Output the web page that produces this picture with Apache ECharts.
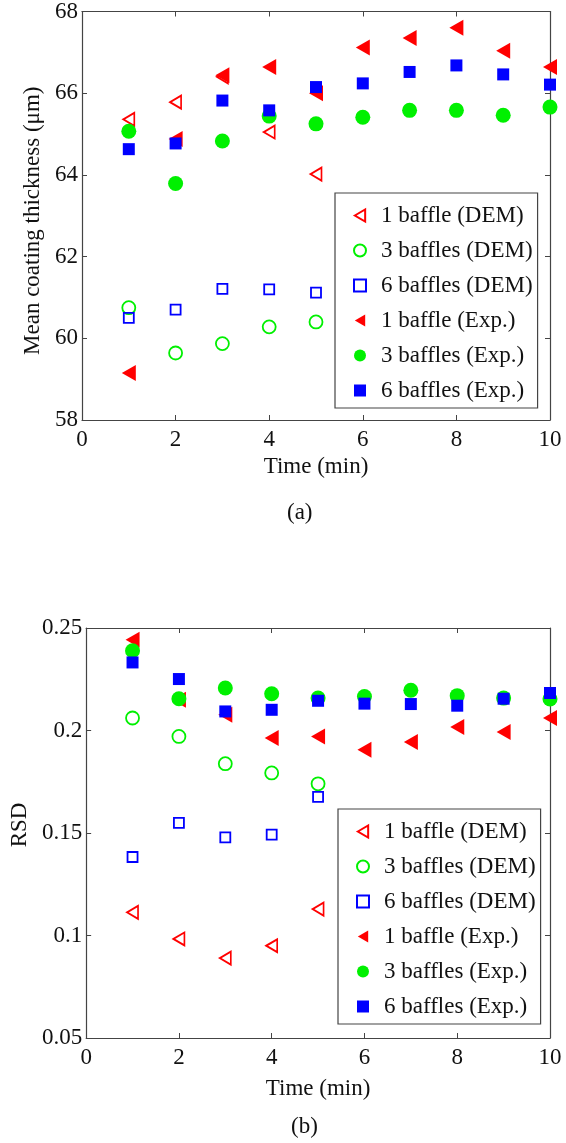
<!DOCTYPE html>
<html>
<head>
<meta charset="utf-8">
<script src="https://cdn.jsdelivr.net/npm/echarts@6/dist/echarts.min.js"></script>
<style>
  html, body { margin: 0; padding: 0; background: #fff; }
  #chart { width: 566px; height: 1143px; }
</style>
</head>
<body>
<div id="chart"></div>
<script>
// Sampling times (min)
const times = [1, 2, 3, 4, 5, 6, 7, 8, 9, 10];
const demTimes = [1, 2, 3, 4, 5];

// (a) Mean coating thickness (µm)
const thick1DEM = [65.36, 65.78, 66.40, 65.05, 64.02];
const thick3DEM = [60.75, 59.64, 59.87, 60.28, 60.40];
const thick6DEM = [60.50, 60.70, 61.21, 61.20, 61.12];
const thick1Exp = [59.15, 64.88, 66.44, 66.64, 66.00, 67.12, 67.35, 67.60, 67.04, 66.64];
const thick3Exp = [65.07, 63.79, 64.83, 65.44, 65.25, 65.41, 65.58, 65.58, 65.46, 65.66];
const thick6Exp = [64.63, 64.77, 65.82, 65.58, 66.15, 66.24, 66.52, 66.68, 66.46, 66.21];

// (b) Relative standard deviation
const rsd1DEM = [0.1113, 0.0983, 0.0890, 0.0950, 0.1129];
const rsd3DEM = [0.2061, 0.1971, 0.1838, 0.1793, 0.1740];
const rsd6DEM = [0.1383, 0.1549, 0.1479, 0.1492, 0.1676];
const rsd1Exp = [0.2443, 0.2150, 0.2077, 0.1963, 0.1971, 0.1906, 0.1944, 0.2017, 0.1993, 0.2061];
const rsd3Exp = [0.2389, 0.2155, 0.2207, 0.2179, 0.2158, 0.2166, 0.2196, 0.2170, 0.2158, 0.2154];
const rsd6Exp = [0.2332, 0.2251, 0.2093, 0.2101, 0.2145, 0.2131, 0.2129, 0.2121, 0.2155, 0.2183];

const seriesNames = [
  '1 baffle (DEM)', '3 baffles (DEM)', '6 baffles (DEM)',
  '1 baffle (Exp.)', '3 baffles (Exp.)', '6 baffles (Exp.)'
];
const xTicks = { min: 0, max: 10, interval: 2 };
const yTicksA = { min: 58, max: 68, interval: 2 };
const yTicksB = { min: 0.05, max: 0.25, interval: 0.05 };

const FONT = 'Liberation Serif';
const FS = 23;
const TEXT_COLOR = '#111';
const AXIS_COLOR = '#444';
const RED = '#ff0000', GREEN = '#00f000', BLUE = '#0000ff';
const LEFT_TRI = 'path://M0,50 L86,0 L86,100 Z';

const zip = (xs, ys) => xs.map((x, i) => [x, ys[i]]);

// marker styles: hollow for DEM, filled for experiments
const markerStyles = [
  { symbol: LEFT_TRI, symbolSize: [11, 13], color: RED, hollow: true },
  { symbol: 'circle', symbolSize: 13, color: GREEN, hollow: true },
  { symbol: 'rect', symbolSize: 10, color: BLUE, hollow: true },
  { symbol: LEFT_TRI, symbolSize: [14, 16], color: RED, hollow: false },
  { symbol: 'circle', symbolSize: 15, color: GREEN, hollow: false },
  { symbol: 'rect', symbolSize: 12, color: BLUE, hollow: false }
];

function scatter(idx, gridIdx, data) {
  const m = markerStyles[idx];
  return {
    type: 'scatter',
    name: seriesNames[idx],
    xAxisIndex: gridIdx * 2,
    yAxisIndex: gridIdx * 2,
    symbol: m.symbol,
    symbolSize: m.symbolSize,
    data: data,
    z: 2 + idx,
    itemStyle: m.hollow
      ? { color: 'rgba(255,255,255,0)', borderColor: m.color, borderWidth: 1.8, opacity: 1 }
      : { color: m.color, borderWidth: 0, opacity: 1 }
  };
}

function xAxes(gridIdx, nameGap) {
  const common = {
    gridIndex: gridIdx, type: 'value',
    min: xTicks.min, max: xTicks.max, interval: xTicks.interval,
    axisLine: { show: true, onZero: false, lineStyle: { color: AXIS_COLOR, width: 1.2 } },
    axisTick: { show: true, inside: true, length: 5, lineStyle: { color: AXIS_COLOR } },
    splitLine: { show: false }
  };
  return [
    Object.assign({}, common, {
      position: 'bottom',
      axisLabel: { color: TEXT_COLOR, fontSize: FS, fontFamily: FONT, margin: 8 },
      name: 'Time (min)', nameLocation: 'middle', nameGap: nameGap,
      nameTextStyle: { color: TEXT_COLOR, fontSize: FS, fontFamily: FONT, lineHeight: FS }
    }),
    Object.assign({}, common, { position: 'top', axisLabel: { show: false } })
  ];
}

function yAxes(gridIdx, ticks, name, nameGap, namePad, fmt) {
  const common = {
    gridIndex: gridIdx, type: 'value',
    min: ticks.min, max: ticks.max, interval: ticks.interval,
    axisLine: { show: true, onZero: false, lineStyle: { color: AXIS_COLOR, width: 1.2 } },
    axisTick: { show: true, inside: true, length: 5, lineStyle: { color: AXIS_COLOR } },
    splitLine: { show: false }
  };
  return [
    Object.assign({}, common, {
      position: 'left',
      axisLabel: { color: TEXT_COLOR, fontSize: FS, fontFamily: FONT, margin: 4, formatter: fmt },
      name: name, nameLocation: 'middle', nameGap: nameGap,
      nameTextStyle: { color: TEXT_COLOR, fontSize: FS, fontFamily: FONT, lineHeight: FS, padding: namePad }
    }),
    Object.assign({}, common, { position: 'right', axisLabel: { show: false } })
  ];
}

function legendAt(left, top) {
  return {
    orient: 'vertical',
    left: left, top: top,
    data: seriesNames,
    itemWidth: 12, itemHeight: 12,
    itemGap: 12,
    padding: [11, 5, 6, 18],
    backgroundColor: '#fff',
    borderColor: AXIS_COLOR, borderWidth: 1.2, borderRadius: 0,
    selectedMode: false,
    formatter: '{t|{name}}',
    textStyle: {
      color: TEXT_COLOR, fontSize: FS, fontFamily: FONT, lineHeight: FS,
      rich: { t: { fontSize: FS, fontFamily: FONT, lineHeight: FS, padding: [0, 0, 0, 10], color: TEXT_COLOR } }
    }
  };
}

const chart = echarts.init(document.getElementById('chart'), null, { renderer: 'canvas' });

const captionStyle = { fontSize: FS, fontWeight: 'normal', fontFamily: FONT, color: TEXT_COLOR, lineHeight: FS };

chart.setOption({
  backgroundColor: '#fff',
  animation: false,
  title: [
    { text: '(a)', left: 287, top: 501, textStyle: captionStyle, padding: 0 },
    { text: '(b)', left: 291, top: 1115, textStyle: captionStyle, padding: 0 }
  ],
  grid: [
    { left: 82, top: 10, width: 468, height: 410 },
    { left: 86, top: 628, width: 464, height: 410 }
  ],
  xAxis: [...xAxes(0, 35), ...xAxes(1, 39)],
  yAxis: [
    ...yAxes(0, yTicksA, 'Mean coating thickness (\u03bcm)', 34, [0, 10, 0, 0], v => String(v)),
    ...yAxes(1, yTicksB, 'RSD', 51, [0, 0, 0, 16], v => String(+v.toFixed(2)))
  ],
  legend: [legendAt(335, 193), legendAt(338, 809)],
  series: [
    scatter(0, 0, zip(demTimes, thick1DEM)),
    scatter(1, 0, zip(demTimes, thick3DEM)),
    scatter(2, 0, zip(demTimes, thick6DEM)),
    scatter(3, 0, zip(times, thick1Exp)),
    scatter(4, 0, zip(times, thick3Exp)),
    scatter(5, 0, zip(times, thick6Exp)),
    scatter(0, 1, zip(demTimes, rsd1DEM)),
    scatter(1, 1, zip(demTimes, rsd3DEM)),
    scatter(2, 1, zip(demTimes, rsd6DEM)),
    scatter(3, 1, zip(times, rsd1Exp)),
    scatter(4, 1, zip(times, rsd3Exp)),
    scatter(5, 1, zip(times, rsd6Exp))
  ]
});
</script>
</body>
</html>
